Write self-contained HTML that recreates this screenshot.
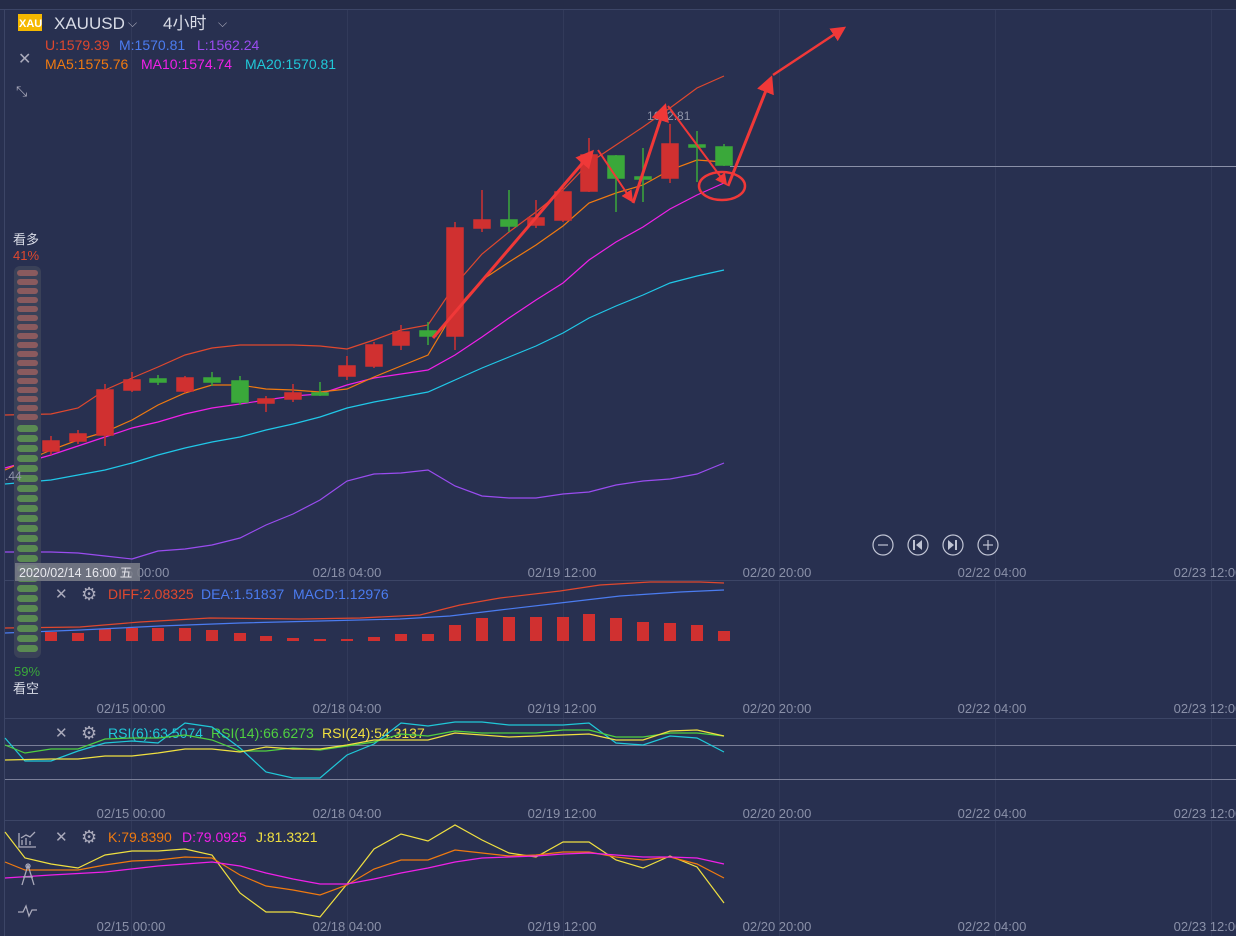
<!DOCTYPE html>
<html><head><meta charset="utf-8"><style>
body{margin:0;background:#283050;}
svg{display:block;font-family:"Liberation Sans","Noto Sans CJK SC",sans-serif;}
</style></head><body>
<svg width="1236" height="936" viewBox="0 0 1236 936" xmlns="http://www.w3.org/2000/svg">
<rect width="1236" height="936" fill="#283050"/>
<rect width="1236" height="9" fill="#252c48"/>
<line x1="0" y1="9.5" x2="1236" y2="9.5" stroke="#3c4566"/>
<line x1="4.5" y1="9" x2="4.5" y2="936" stroke="#3c4566"/>
<g stroke="#323a5a" stroke-width="1">
<line x1="131.5" y1="10" x2="131.5" y2="936"/><line x1="347.5" y1="10" x2="347.5" y2="936"/><line x1="563.5" y1="10" x2="563.5" y2="936"/><line x1="779.5" y1="10" x2="779.5" y2="936"/><line x1="995.5" y1="10" x2="995.5" y2="936"/><line x1="1211.5" y1="10" x2="1211.5" y2="936"/>
</g>
<g stroke="#3c4566"><line x1="5" y1="580.5" x2="1236" y2="580.5"/><line x1="5" y1="718.5" x2="1236" y2="718.5"/><line x1="5" y1="820.5" x2="1236" y2="820.5"/></g>
<line x1="730" y1="166.5" x2="1236" y2="166.5" stroke="#8a90a8"/>
<!-- header -->
<rect x="18" y="14" width="24" height="17" fill="#f5b800"/><text x="19" y="27" font-size="11" fill="#fff" font-weight="bold">XAU</text>
<text x="54" y="29" font-size="17" fill="#d8dbe6">XAUUSD</text><text x="128" y="27" font-size="12" fill="#aab">⌵</text>
<text x="163" y="29" font-size="17" fill="#d8dbe6">4小时</text><text x="218" y="27" font-size="12" fill="#aab">⌵</text>
<g font-size="14"><text x="45" y="50" fill="#e0482e">U:1579.39</text><text x="119" y="50" fill="#4b7cf0">M:1570.81</text><text x="197" y="50" fill="#9a4cf0">L:1562.24</text>
<text x="45" y="69" fill="#f07a10">MA5:1575.76</text><text x="141" y="69" fill="#f020e8">MA10:1574.74</text><text x="245" y="69" fill="#20c8d8">MA20:1570.81</text></g>
<text x="18" y="64" font-size="16" fill="#aab">✕</text>
<text x="16" y="96" font-size="14" fill="#aab">⤡</text>
<!-- bands -->
<g fill="none" stroke-width="1.2">
<polyline stroke="#e0482e" points="5,415 51,414 78,408 105,390 132,378 158,367 185,355 212,348 240,345 266,345 293,345 320,346 347,349 374,340 401,330 428,325 455,285 482,254 509,232 536,212 563,190 589,163 616,145 643,127 670,108 697,88 724,76"/>
<polyline stroke="#20c8e8" points="5,484 51,480 78,475 105,470 132,463 158,455 185,448 212,442 240,437 266,430 293,424 320,417 347,408 374,402 401,397 428,392 455,380 482,368 509,357 536,346 563,333 589,318 616,306 643,295 670,283 697,276 724,270"/>
<polyline stroke="#9a4cf0" points="5,552 51,552 78,553 105,556 132,559 158,551 185,549 212,545 240,538 266,525 293,514 320,500 347,481 374,474 401,473 428,470 455,486 482,496 509,498 536,498 563,494 589,492 616,485 643,481 670,479 697,474 724,463"/>
<polyline stroke="#f020e8" points="5,468 51,455 78,446 105,437 132,428 158,422 185,414 212,408 240,404 266,400 293,396 320,394 347,385 374,378 401,374 428,370 455,355 482,337 509,318 536,300 563,283 589,260 616,242 643,227 670,209 697,195 724,183"/>
<polyline stroke="#f07a10" points="5,470 51,450 78,440 105,432 132,420 158,405 185,393 212,385 240,385 266,389 293,390 320,392 347,389 374,377 401,366 428,355 455,310 482,280 509,262 536,245 563,226 589,203 616,193 643,185 670,170 697,160 724,162"/>
</g>
<!-- candles -->
<g stroke-width="1.5">
<g stroke="#d03030" fill="#d03030">
<line x1="51" y1="436" x2="51" y2="455"/><rect x="43" y="441" width="16" height="10"/>
<line x1="78" y1="430" x2="78" y2="444"/><rect x="70" y="434" width="16" height="7"/>
<line x1="105" y1="384" x2="105" y2="446"/><rect x="97" y="390" width="16" height="45"/>
<line x1="132" y1="372" x2="132" y2="392"/><rect x="124" y="380" width="16" height="10"/>
<line x1="185" y1="376" x2="185" y2="393"/><rect x="177" y="378" width="16" height="13"/>
<line x1="266" y1="396" x2="266" y2="412"/><rect x="258" y="399" width="16" height="4"/>
<line x1="293" y1="384" x2="293" y2="402"/><rect x="285" y="393" width="16" height="6"/>
<line x1="347" y1="356" x2="347" y2="380"/><rect x="339" y="366" width="16" height="10"/>
<line x1="374" y1="342" x2="374" y2="368"/><rect x="366" y="345" width="16" height="21"/>
<line x1="401" y1="325" x2="401" y2="350"/><rect x="393" y="332" width="16" height="13"/>
<line x1="455" y1="222" x2="455" y2="350"/><rect x="447" y="228" width="16" height="108"/>
<line x1="482" y1="190" x2="482" y2="232"/><rect x="474" y="220" width="16" height="8"/>
<line x1="536" y1="200" x2="536" y2="228"/><rect x="528" y="218" width="16" height="7"/>
<line x1="563" y1="185" x2="563" y2="222"/><rect x="555" y="192" width="16" height="28"/>
<line x1="589" y1="138" x2="589" y2="192"/><rect x="581" y="155" width="16" height="36"/>
<line x1="670" y1="124" x2="670" y2="183"/><rect x="662" y="144" width="16" height="34"/>
</g>
<g stroke="#3aa83a" fill="#3aa83a">
<line x1="25" y1="420" x2="25" y2="455"/><rect x="17" y="426" width="16" height="24"/>
<line x1="158" y1="375" x2="158" y2="385"/><rect x="150" y="379" width="16" height="3"/>
<line x1="212" y1="372" x2="212" y2="386"/><rect x="204" y="378" width="16" height="4"/>
<line x1="240" y1="376" x2="240" y2="405"/><rect x="232" y="381" width="16" height="21"/>
<line x1="320" y1="382" x2="320" y2="396"/><rect x="312" y="393" width="16" height="2"/>
<line x1="428" y1="322" x2="428" y2="345"/><rect x="420" y="331" width="16" height="5"/>
<line x1="509" y1="190" x2="509" y2="232"/><rect x="501" y="220" width="16" height="6"/>
<line x1="616" y1="155" x2="616" y2="212"/><rect x="608" y="156" width="16" height="22"/>
<line x1="643" y1="148" x2="643" y2="202"/><rect x="635" y="177" width="16" height="2"/>
<line x1="697" y1="131" x2="697" y2="182"/><rect x="689" y="145" width="16" height="2"/>
<line x1="724" y1="144" x2="724" y2="166"/><rect x="716" y="147" width="16" height="18"/>
</g></g>
<text x="647" y="120" font-size="12" fill="#9095a8">1612.81</text>
<!-- arrows -->
<defs><marker id="ah" markerWidth="6" markerHeight="6" refX="5" refY="3" orient="auto" markerUnits="strokeWidth"><path d="M0,0 L6,3 L0,6 z" fill="#f03838"/></marker></defs>
<g stroke="#f03838" stroke-width="3" fill="none">
<line x1="433" y1="338" x2="592" y2="152" marker-end="url(#ah)"/>
<line x1="598" y1="150" x2="632" y2="201" stroke-width="2" marker-end="url(#ah)"/>
<line x1="633" y1="203" x2="665" y2="106" marker-end="url(#ah)"/>
<line x1="668" y1="106" x2="726" y2="184" stroke-width="2" marker-end="url(#ah)"/>
<line x1="728" y1="186" x2="771" y2="78" marker-end="url(#ah)"/>
<line x1="773" y1="75" x2="844" y2="28" stroke-width="2.5" marker-end="url(#ah)"/>
<ellipse cx="722" cy="186" rx="23" ry="14" stroke-width="2.5"/>
</g>
<!-- nav -->
<g stroke="#c0c4d4" fill="none" stroke-width="1.2"><circle cx="883" cy="545" r="10"/><circle cx="918" cy="545" r="10"/><circle cx="953" cy="545" r="10"/><circle cx="988" cy="545" r="10"/>
<line x1="878" y1="545" x2="888" y2="545"/><line x1="983" y1="545" x2="993" y2="545"/><line x1="988" y1="540" x2="988" y2="550"/></g>
<g fill="#c0c4d4"><path d="M913,540h2v10h-2z M922,540v10l-6,-5z"/><path d="M948,540v10l6,-5z M955,540h2v10h-2z"/></g>
<!-- axis labels -->
<g font-size="13" fill="#8a90a8" text-anchor="middle">
<text x="135" y="577">02/15 00:00</text><text x="347" y="577">02/18 04:00</text><text x="562" y="577">02/19 12:00</text><text x="777" y="577">02/20 20:00</text><text x="992" y="577">02/22 04:00</text><text x="1208" y="577">02/23 12:00</text>
<text x="131" y="713">02/15 00:00</text><text x="347" y="713">02/18 04:00</text><text x="562" y="713">02/19 12:00</text><text x="777" y="713">02/20 20:00</text><text x="992" y="713">02/22 04:00</text><text x="1208" y="713">02/23 12:00</text>
<text x="131" y="818">02/15 00:00</text><text x="347" y="818">02/18 04:00</text><text x="562" y="818">02/19 12:00</text><text x="777" y="818">02/20 20:00</text><text x="992" y="818">02/22 04:00</text><text x="1208" y="818">02/23 12:00</text>
<text x="131" y="931">02/15 00:00</text><text x="347" y="931">02/18 04:00</text><text x="562" y="931">02/19 12:00</text><text x="777" y="931">02/20 20:00</text><text x="992" y="931">02/22 04:00</text><text x="1208" y="931">02/23 12:00</text>
</g>
<!-- MACD -->
<text x="55" y="599" font-size="15" fill="#aab">✕</text><text x="81" y="600" font-size="18" fill="#aab">⚙</text>
<g font-size="14"><text x="108" y="599" fill="#e0482e">DIFF:2.08325</text><text x="201" y="599" fill="#4b7cf0">DEA:1.51837</text><text x="293" y="599" fill="#4b7cf0">MACD:1.12976</text></g>
<g fill="#d03030">
<rect x="19" y="633" width="12" height="8"/><rect x="45" y="632" width="12" height="9"/><rect x="72" y="633" width="12" height="8"/><rect x="99" y="629" width="12" height="12"/><rect x="126" y="628" width="12" height="13"/><rect x="152" y="628" width="12" height="13"/><rect x="179" y="628" width="12" height="13"/><rect x="206" y="630" width="12" height="11"/><rect x="234" y="633" width="12" height="8"/><rect x="260" y="636" width="12" height="5"/><rect x="287" y="638" width="12" height="3"/><rect x="314" y="639" width="12" height="2"/><rect x="341" y="639" width="12" height="2"/><rect x="368" y="637" width="12" height="4"/><rect x="395" y="634" width="12" height="7"/><rect x="422" y="634" width="12" height="7"/><rect x="449" y="625" width="12" height="16"/><rect x="476" y="618" width="12" height="23"/><rect x="503" y="617" width="12" height="24"/><rect x="530" y="617" width="12" height="24"/><rect x="557" y="617" width="12" height="24"/><rect x="583" y="614" width="12" height="27"/><rect x="610" y="618" width="12" height="23"/><rect x="637" y="622" width="12" height="19"/><rect x="664" y="623" width="12" height="18"/><rect x="691" y="625" width="12" height="16"/><rect x="718" y="631" width="12" height="10"/>
</g>
<polyline fill="none" stroke="#e0482e" stroke-width="1.2" points="5,628 80,627 140,622 210,618 300,619 360,618 420,615 460,605 500,598 560,591 600,585 650,582 700,582 724,583"/>
<polyline fill="none" stroke="#4b7cf0" stroke-width="1.2" points="5,633 80,630 160,626 240,623 320,621 400,619 450,616 500,610 560,603 620,596 680,592 724,590"/>
<!-- RSI -->
<line x1="5" y1="745.5" x2="1236" y2="745.5" stroke="#7a7f98"/><line x1="5" y1="779.5" x2="1236" y2="779.5" stroke="#7a7f98"/>
<text x="55" y="738" font-size="15" fill="#aab">✕</text><text x="81" y="739" font-size="18" fill="#aab">⚙</text>
<g font-size="14"><text x="108" y="738" fill="#20c8d8">RSI(6):63.5074</text><text x="211" y="738" fill="#50d040">RSI(14):66.6273</text><text x="322" y="738" fill="#f0e040">RSI(24):54.3137</text></g>
<g fill="none" stroke-width="1.2">
<polyline stroke="#20c8d8" points="5,738 25,761 51,761 78,751 105,743 132,741 158,743 185,723 212,727 240,748 266,772 293,778 320,778 347,755 374,744 401,723 428,726 455,722 482,722 509,725 536,725 563,725 589,723 616,743 643,745 670,736 697,738 724,752"/>
<polyline stroke="#50d040" points="5,745 25,753 51,749 78,749 105,739 132,738 158,738 185,735 212,740 240,751 266,751 293,748 320,750 347,746 374,742 401,734 428,736 455,731 482,733 509,733 536,733 563,730 589,730 616,737 643,737 670,733 697,733 724,736"/>
<polyline stroke="#f0e040" points="5,760 51,759 78,759 105,756 132,756 158,753 185,749 212,749 240,752 266,747 293,749 320,749 347,745 374,740 401,740 428,740 455,733 482,735 509,737 536,736 563,735 589,734 616,740 643,740 670,731 697,730 724,736"/>
</g>
<!-- KDJ -->
<text x="55" y="842" font-size="15" fill="#aab">✕</text><text x="81" y="843" font-size="18" fill="#aab">⚙</text>
<g font-size="14"><text x="108" y="842" fill="#f07a10">K:79.8390</text><text x="182" y="842" fill="#f020e8">D:79.0925</text><text x="256" y="842" fill="#f0e040">J:81.3321</text></g>
<g fill="none" stroke-width="1.2">
<polyline stroke="#f0e040" points="5,832 25,858 51,864 78,868 105,855 132,851 158,851 185,849 212,855 240,893 266,912 293,912 320,917 347,884 374,849 401,834 428,841 455,825 482,840 509,853 536,857 563,842 589,842 616,860 643,868 670,856 697,867 724,903"/>
<polyline stroke="#f07a10" points="5,862 25,870 51,870 78,870 105,865 132,861 158,860 185,857 212,858 240,875 266,886 293,890 320,895 347,885 374,869 401,860 428,860 455,850 482,853 509,856 536,855 563,852 589,852 616,857 643,860 670,857 697,864 724,878"/>
<polyline stroke="#f020e8" points="5,878 51,875 105,872 158,866 212,862 240,866 266,873 293,879 320,884 347,884 374,879 401,873 428,868 455,862 482,858 509,857 536,856 563,854 589,853 616,855 643,857 670,857 697,858 724,864"/>
</g>
<g stroke="#aab" fill="none" stroke-width="1.3"><path d="M19,833v14h17M22,845v-5M26,845v-7M30,845v-4M21,838l5,-3l4,2l5,-5"/><path d="M28,865l-6,20M28,865l6,20M23,877h10"/><circle cx="28" cy="866" r="2"/><path d="M18,912h5l3,-6l3,10l3,-6h5"/></g>
<!-- sentiment bar -->
<rect x="14" y="266" width="27" height="392" rx="6" fill="#3a4158"/>
<g id="pills">
<rect x="17" y="270" width="21" height="6" rx="3" fill="#8a5a5e"/><rect x="17" y="279" width="21" height="6" rx="3" fill="#8a5a5e"/><rect x="17" y="288" width="21" height="6" rx="3" fill="#8a5a5e"/><rect x="17" y="297" width="21" height="6" rx="3" fill="#8a5a5e"/><rect x="17" y="306" width="21" height="6" rx="3" fill="#8a5a5e"/><rect x="17" y="315" width="21" height="6" rx="3" fill="#8a5a5e"/><rect x="17" y="324" width="21" height="6" rx="3" fill="#8a5a5e"/><rect x="17" y="333" width="21" height="6" rx="3" fill="#8a5a5e"/><rect x="17" y="342" width="21" height="6" rx="3" fill="#8a5a5e"/><rect x="17" y="351" width="21" height="6" rx="3" fill="#8a5a5e"/><rect x="17" y="360" width="21" height="6" rx="3" fill="#8a5a5e"/><rect x="17" y="369" width="21" height="6" rx="3" fill="#8a5a5e"/><rect x="17" y="378" width="21" height="6" rx="3" fill="#8a5a5e"/><rect x="17" y="387" width="21" height="6" rx="3" fill="#8a5a5e"/><rect x="17" y="396" width="21" height="6" rx="3" fill="#8a5a5e"/><rect x="17" y="405" width="21" height="6" rx="3" fill="#8a5a5e"/><rect x="17" y="414" width="21" height="6" rx="3" fill="#8a5a5e"/>
</g>
<g fill="#5a8a52">
<rect x="17" y="425" width="21" height="7" rx="3.5"/><rect x="17" y="435" width="21" height="7" rx="3.5"/><rect x="17" y="445" width="21" height="7" rx="3.5"/><rect x="17" y="455" width="21" height="7" rx="3.5"/><rect x="17" y="465" width="21" height="7" rx="3.5"/><rect x="17" y="475" width="21" height="7" rx="3.5"/><rect x="17" y="485" width="21" height="7" rx="3.5"/><rect x="17" y="495" width="21" height="7" rx="3.5"/><rect x="17" y="505" width="21" height="7" rx="3.5"/><rect x="17" y="515" width="21" height="7" rx="3.5"/><rect x="17" y="525" width="21" height="7" rx="3.5"/><rect x="17" y="535" width="21" height="7" rx="3.5"/><rect x="17" y="545" width="21" height="7" rx="3.5"/><rect x="17" y="555" width="21" height="7" rx="3.5"/><rect x="17" y="565" width="21" height="7" rx="3.5"/><rect x="17" y="575" width="21" height="7" rx="3.5"/><rect x="17" y="585" width="21" height="7" rx="3.5"/><rect x="17" y="595" width="21" height="7" rx="3.5"/><rect x="17" y="605" width="21" height="7" rx="3.5"/><rect x="17" y="615" width="21" height="7" rx="3.5"/><rect x="17" y="625" width="21" height="7" rx="3.5"/><rect x="17" y="635" width="21" height="7" rx="3.5"/><rect x="17" y="645" width="21" height="7" rx="3.5"/>
</g>
<text x="5" y="480" font-size="12" fill="#9095a8">.44</text>
<text x="13" y="244" font-size="13" fill="#d8dbe6">看多</text><text x="13" y="260" font-size="13" fill="#e0482e">41%</text>
<text x="14" y="676" font-size="13" fill="#3aa83a">59%</text><text x="13" y="693" font-size="13" fill="#d8dbe6">看空</text>
<rect x="15" y="563" width="125" height="18" fill="#7a7e88" opacity="0.85"/>
<text x="19" y="577" font-size="12.5" fill="#e8e8ee">2020/02/14 16:00 五</text>
</svg>
</body></html>
